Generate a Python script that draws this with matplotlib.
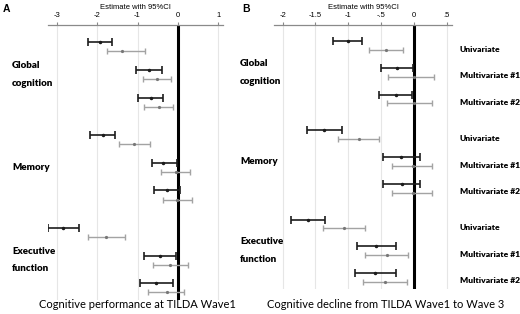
import matplotlib
matplotlib.use('Agg')

import matplotlib.pyplot as plt
import matplotlib.transforms as mtransforms
import numpy as np

# ---- data (estimate, lower CI, upper CI) ----
groups = ['Global\ncognition', 'Memory', 'Executive\nfunction']
models = ['Univariate', 'Multivariate #1', 'Multivariate #2']

# panel A: cognitive performance at wave 1, per group x model
a_black_est = [-1.94, -0.72, -0.67, -1.86, -0.36, -0.28, -2.84, -0.45, -0.53]
a_black_lo = [-2.24, -1.03, -0.99, -2.18, -0.65, -0.60, -3.21, -0.84, -0.93]
a_black_hi = [-1.64, -0.40, -0.36, -1.56, -0.03, 0.06, -2.45, -0.04, -0.12]
a_gray_est = [-1.39, -0.51, -0.47, -1.08, -0.04, -0.02, -1.77, -0.19, -0.28]
a_gray_lo = [-1.76, -0.86, -0.83, -1.45, -0.42, -0.38, -2.22, -0.62, -0.73]
a_gray_hi = [-0.81, -0.16, -0.12, -0.70, 0.31, 0.36, -1.32, 0.24, 0.15]

# panel B: cognitive decline wave 1 -> wave 3
b_black_est = [-1.01, -0.26, -0.28, -1.37, -0.19, -0.18, -1.61, -0.57, -0.59]
b_black_lo = [-1.23, -0.50, -0.53, -1.63, -0.47, -0.47, -1.87, -0.87, -0.90]
b_black_hi = [-0.79, -0.02, -0.03, -1.10, 0.09, 0.10, -1.35, -0.28, -0.28]
b_gray_est = [-0.43, 0.00, 0.00, -0.84, -0.02, -0.02, -1.07, -0.41, -0.44]
b_gray_lo = [-0.69, -0.39, -0.41, -1.16, -0.33, -0.33, -1.38, -0.74, -0.77]
b_gray_hi = [-0.17, 0.30, 0.27, -0.53, 0.28, 0.28, -0.74, -0.09, -0.10]

a_ticks = [-3, -2, -1, 0, 1]
a_ticklabels = ['-3', '-2', '-1', '0', '1']
b_ticks = [-2, -1.5, -1, -0.5, 0, 0.5]
b_ticklabels = ['-2', '-1.5', '-1', '-.5', '0', '.5']

c_black = '#1c1c1c'
c_gray = '#a3a3a3'
W, H = 520., 314.

# row layout
gstep = 3.34
goff = 0.33
rows = np.array([g * gstep + m for g in range(3) for m in range(3)])
ylim = (9.28, -0.61)

fig = plt.figure(figsize=(5.2, 3.14), dpi=100)
axA = fig.add_axes([48 / W, 1 - 300 / H, 175 / W, 275 / H])
axB = fig.add_axes([274 / W, 1 - 289 / H, 178 / W, 264 / H])


def draw_panel(ax, be, bl, bh, ge, gl, gh, xlim, ticks, labels):
    be, bl, bh = map(np.array, (be, bl, bh))
    ge, gl, gh = map(np.array, (ge, gl, gh))
    for t in ticks:
        if t != 0:
            ax.axvline(t, color='#e6e6e6', lw=0.8, zorder=0)
    ax.axvline(0, color='black', lw=2.2, zorder=1)
    ax.errorbar(be, rows, xerr=[be - bl, bh - be], fmt='o', ms=1.5,
                color=c_black, ecolor=c_black, elinewidth=1.2, capsize=2.6,
                capthick=1.2, zorder=3)
    ax.errorbar(ge, rows + goff, xerr=[ge - gl, gh - ge], fmt='o', ms=1.3,
                color='#777777', ecolor=c_gray, elinewidth=1.0, capsize=2.4,
                capthick=1.0, zorder=3)
    ax.set_xlim(xlim)
    ax.set_ylim(ylim)
    ax.xaxis.tick_top()
    ax.set_xticks(ticks)
    ax.set_xticklabels(labels, fontsize=5.5, family='Liberation Sans')
    ax.tick_params(axis='x', length=2.5, width=0.8, color='#888888', pad=2)
    ax.set_yticks([])
    for s in ['left', 'right', 'bottom']:
        ax.spines[s].set_visible(False)
    ax.spines['top'].set_color('#8a8a8a')
    ax.spines['top'].set_linewidth(0.9)
    ax.set_title('Estimate with 95%CI', fontsize=5.5, family='Liberation Sans',
                 pad=2)


draw_panel(axA, a_black_est, a_black_lo, a_black_hi,
           a_gray_est, a_gray_lo, a_gray_hi, (-3.22, 1.12), a_ticks, a_ticklabels)
draw_panel(axB, b_black_est, b_black_lo, b_black_hi,
           b_gray_est, b_gray_lo, b_gray_hi, (-2.13, 0.58), b_ticks, b_ticklabels)

# group labels to the left of each panel
for ax, xpx in [(axA, 12), (axB, 240)]:
    tr = mtransforms.blended_transform_factory(fig.transFigure, ax.transData)
    for g, name in enumerate(groups):
        yc = g * gstep + 1 + goff / 2
        fig.text(xpx / W, yc, name, transform=tr, ha='left', va='center',
                 fontsize=7, fontweight='heavy', family='Lato',
                 linespacing=2.2)

# model labels at the right of panel B
trB = mtransforms.blended_transform_factory(fig.transFigure, axB.transData)
for i, r in enumerate(rows):
    fig.text(460 / W, r + 0.3, models[i % 3], transform=trB, ha='left',
             va='center', fontsize=6.1, fontweight='heavy', family='Lato')

# panel letters and captions
fig.text(3 / W, 1 - 9 / H, 'A', fontsize=7.5, fontweight='bold',
         family='Liberation Sans', va='center')
fig.text(242 / W, 1 - 9 / H, 'B', fontsize=7.5, fontweight='bold',
         family='Liberation Sans', va='center')
fig.text(137 / W, 1 - 305 / H, 'Cognitive performance at TILDA Wave1',
         fontsize=8, family='Lato', ha='center', va='center')
fig.text(386 / W, 1 - 305 / H, 'Cognitive decline from TILDA Wave1 to Wave 3',
         fontsize=8, family='Lato', ha='center', va='center')

fig.savefig('out.png', dpi=100)
